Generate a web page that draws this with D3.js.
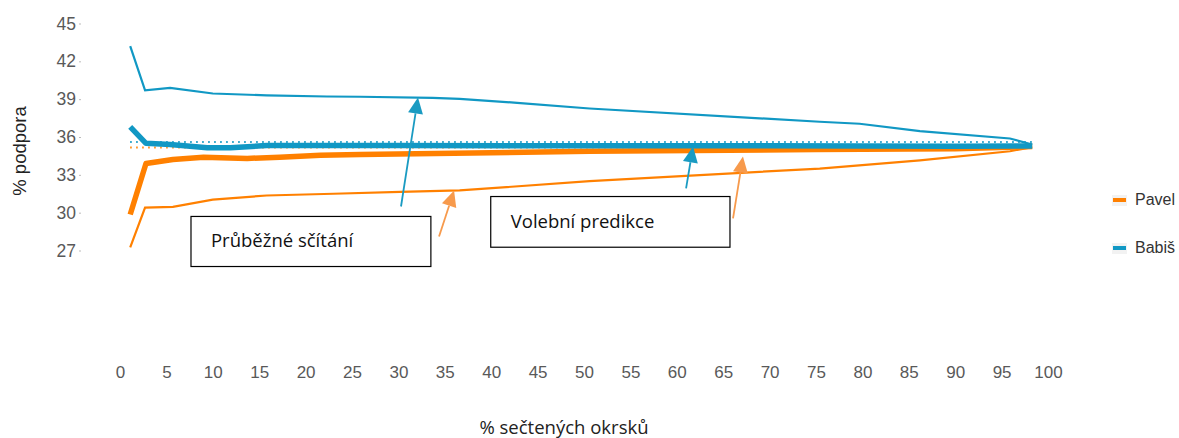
<!DOCTYPE html>
<html>
<head>
<meta charset="utf-8">
<script src="https://cdn.jsdelivr.net/npm/d3@7"></script>
<style>
  body { margin: 0; background: #fff; }
  svg { display: block; }
</style>
</head>
<body>
<div id="chart"></div>
<script>
const xTicks = [0, 5, 10, 15, 20, 25, 30, 35, 40, 45, 50, 55, 60, 65, 70, 75, 80, 85, 90, 95, 100];
const yTicks = [27, 30, 33, 36, 39, 42, 45];

// průběžné sčítání (tenké čáry)
const babisCountX = [1.1, 2.7, 5.4, 10, 15.8, 22.3, 25.9, 33.7, 36.6, 42.8, 50.6, 75.4, 79.7, 86.2, 95.9, 98.3];
const babisCount = [43.2, 39.7, 39.9, 39.45, 39.3, 39.21, 39.19, 39.11, 39.03, 38.71, 38.26, 37.21, 37.05, 36.46, 35.88, 35.4];
const pavelCountX = [1.1, 2.7, 5.7, 10, 15.8, 23, 30.2, 36.6, 50.6, 75.4, 86.2, 95.9, 98.3];
const pavelCount = [27.25, 30.4, 30.46, 31.04, 31.36, 31.5, 31.65, 31.76, 32.5, 33.5, 34.14, 34.87, 35.2];

// volební predikce (tlusté čáry)
const babisPredX = [1.1, 2.8, 5.4, 9.4, 11.9, 15.8, 30, 50, 70, 90, 98.3];
const babisPred = [36.8, 35.5, 35.4, 35.15, 35.15, 35.32, 35.32, 35.31, 35.3, 35.27, 35.28];
const pavelPredX = [1.1, 2.8, 5.7, 9, 13.7, 17.2, 21.6, 25.9, 50.6, 75, 90, 98.3];
const pavelPred = [29.85, 33.9, 34.22, 34.4, 34.3, 34.4, 34.56, 34.61, 34.87, 35.0, 35.06, 35.25];

// konečný výsledek (tečkované)
const finalX = [1.1, 98.3];
const babisFinal = [35.6, 35.6];
const pavelFinal = [35.17, 35.17];

const legendNames = ['Pavel', 'Babiš'];

const width = 1179;
const height = 438;
const blue = '#1198c4';
const orange = '#ff8000';
const arrowBlue = '#1a9bc2';
const arrowOrange = '#f79a4c';

const x = d3.scaleLinear().domain([0, 100]).range([120, 1048]);
const y = d3.scaleLinear().domain([27, 45]).range([250.5, 23.5]);

const svg = d3.select('#chart').append('svg').attr('width', width).attr('height', height);

const line = d3
  .line()
  .x((d) => x(d[0]))
  .y((d) => y(d[1]));

const zip = (xs, ys) => xs.map((v, i) => [v, ys[i]]);

// osa y
const yAxis = svg.append('g').attr('transform', `translate(${81},0)`).call(
  d3.axisLeft(y).tickValues(yTicks).tickSize(2).tickPadding(3)
);
yAxis.select('.domain').remove();
yAxis.selectAll('.tick line').attr('stroke', '#bbb');
yAxis
  .selectAll('.tick text')
  .attr('font-family', 'Liberation Sans, Arial, sans-serif')
  .attr('font-size', 17.5)
  .attr('fill', '#595959');

// osa x
const xAxis = svg.append('g').attr('transform', `translate(0,${366})`).call(
  d3.axisBottom(x).tickValues(xTicks).tickSize(0).tickPadding(0)
);
xAxis.select('.domain').remove();
xAxis
  .selectAll('.tick text')
  .attr('font-family', 'Liberation Sans, Arial, sans-serif')
  .attr('font-size', 17)
  .attr('fill', '#595959');

svg
  .append('text')
  .attr('x', 564)
  .attr('y', 434)
  .attr('text-anchor', 'middle')
  .attr('font-family', 'Open Sans, sans-serif')
  .attr('font-size', 18.5)
  .attr('fill', '#222')
  .text('% sečtených okrsků');

svg
  .append('text')
  .attr('transform', 'translate(26,151) rotate(-90)')
  .attr('text-anchor', 'middle')
  .attr('font-family', 'Liberation Sans, Arial, sans-serif')
  .attr('font-size', 18.5)
  .attr('fill', '#222')
  .text('% podpora');

// čáry
svg.append('path').datum(zip(babisCountX, babisCount)).attr('d', line)
  .attr('fill', 'none').attr('stroke', blue).attr('stroke-width', 2.2);
svg.append('path').datum(zip(pavelCountX, pavelCount)).attr('d', line)
  .attr('fill', 'none').attr('stroke', orange).attr('stroke-width', 2.2);
svg.append('path').datum(zip(finalX, pavelFinal)).attr('d', line)
  .attr('fill', 'none').attr('stroke', orange).attr('stroke-width', 2).attr('stroke-dasharray', '1.5 4.5');
svg.append('path').datum(zip(pavelPredX, pavelPred)).attr('d', line)
  .attr('fill', 'none').attr('stroke', orange).attr('stroke-width', 5.5).attr('stroke-linejoin', 'round');
svg.append('path').datum(zip(babisPredX, babisPred)).attr('d', line)
  .attr('fill', 'none').attr('stroke', blue).attr('stroke-width', 5.5).attr('stroke-linejoin', 'round');
svg.append('path').datum(zip(finalX, babisFinal)).attr('d', line)
  .attr('fill', 'none').attr('stroke', blue).attr('stroke-width', 2).attr('stroke-dasharray', '1.5 4.5');

// legenda
legendNames.forEach((name, i) => {
  const ly = 200 + i * 48;
  const g = svg.append('g');
  g.append('rect').attr('x', 1112).attr('y', ly - 5).attr('width', 15).attr('height', 11).attr('fill', '#f2f2f2');
  g.append('rect').attr('x', 1113).attr('y', ly - 2).attr('width', 13).attr('height', 4)
    .attr('fill', i === 0 ? orange : blue);
  g.append('text')
    .attr('x', 1135)
    .attr('y', ly + 1)
    .attr('dominant-baseline', 'middle')
    .attr('font-family', 'Liberation Sans, Arial, sans-serif')
    .attr('font-size', 16)
    .attr('fill', '#333')
    .text(name);
});

// popisky a šipky
const boxes = [
  { label: 'Průběžné sčítání', x0: 7.65, x1: 33.5, y0: 29.7, y1: 25.73 },
  { label: 'Volební predikce', x0: 39.95, x1: 65.73, y0: 31.28, y1: 27.26 },
];
boxes.forEach((b) => {
  svg
    .append('rect')
    .attr('x', x(b.x0))
    .attr('y', y(b.y0))
    .attr('width', x(b.x1) - x(b.x0))
    .attr('height', y(b.y1) - y(b.y0))
    .attr('fill', '#fff')
    .attr('stroke', '#000')
    .attr('stroke-width', 1.2);
  svg
    .append('text')
    .attr('x', x(b.x0) + 20)
    .attr('y', (y(b.y0) + y(b.y1)) / 2 + 1)
    .attr('dominant-baseline', 'middle')
    .attr('font-family', 'Open Sans, sans-serif')
    .attr('font-size', 18.5)
    .attr('fill', '#111')
    .text(b.label);
});

const arrows = [
  { from: [30.28, 30.49], to: [32.11, 39.13], color: arrowBlue },
  { from: [34.38, 28.11], to: [36.0, 31.76], color: arrowOrange },
  { from: [61.0, 31.92], to: [61.75, 35.25], color: arrowBlue },
  { from: [66.06, 29.54], to: [67.13, 34.45], color: arrowOrange },
];
const headLen = 16;
const headHalf = 7.5;
arrows.forEach((a) => {
  const x1 = x(a.from[0]);
  const y1 = y(a.from[1]);
  const x2 = x(a.to[0]);
  const y2 = y(a.to[1]);
  const len = Math.hypot(x2 - x1, y2 - y1);
  const ux = (x2 - x1) / len;
  const uy = (y2 - y1) / len;
  const bx = x2 - ux * headLen;
  const by = y2 - uy * headLen;

  svg
    .append('line')
    .attr('x1', x1)
    .attr('y1', y1)
    .attr('x2', bx)
    .attr('y2', by)
    .attr('stroke', a.color)
    .attr('stroke-width', 1.8);

  svg
    .append('polygon')
    .attr('points', [
      [x2, y2],
      [bx - uy * headHalf, by + ux * headHalf],
      [bx + uy * headHalf, by - ux * headHalf],
    ].map((p) => p.join(',')).join(' '))
    .attr('fill', a.color);
});
</script>
</body>
</html>
